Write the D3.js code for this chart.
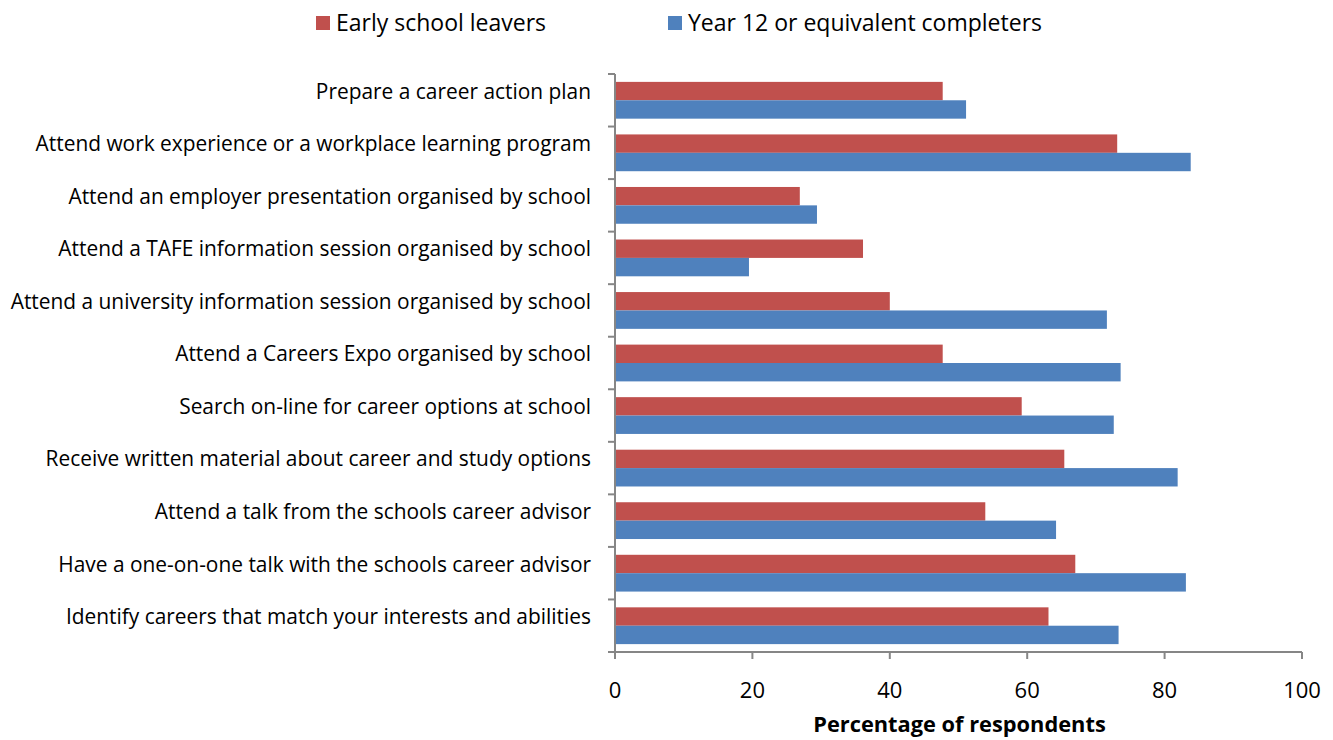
<!DOCTYPE html>
<html>
<head>
<meta charset="utf-8">
<script src="https://cdn.jsdelivr.net/npm/d3@7"></script>
<style>
  body { margin: 0; background: #fff; }
  svg { font-family: "Open Sans", sans-serif; }
</style>
</head>
<body>
<div id="chart"></div>
<script>
// categories, top to bottom
const categories = [
  "Prepare a career action plan",
  "Attend work experience or a workplace learning program",
  "Attend an employer presentation organised by school",
  "Attend a TAFE information session organised by school",
  "Attend a university information session organised by school",
  "Attend a Careers Expo organised by school",
  "Search on-line for career options at school",
  "Receive written material about career and study options",
  "Attend a talk from the schools career advisor",
  "Have a one-on-one talk with the schools career advisor",
  "Identify careers that match your interests and abilities"
];
const seriesNames = ["Early school leavers", "Year 12 or equivalent completers"];
const earlyLeavers = [47.7, 73.1, 26.9, 36.1, 40.0, 47.7, 59.2, 65.4, 53.9, 67.0, 63.1];
const year12 = [51.1, 83.8, 29.4, 19.5, 71.6, 73.6, 72.6, 81.9, 64.2, 83.1, 73.3];
const xTicks = [0, 20, 40, 60, 80, 100];
const colors = ["#C0504D", "#4F81BD"];

const width = 1333, height = 740;
const margin = { top: 74, left: 615, right: 31, bottom: 88 };
const innerW = width - margin.left - margin.right;
const innerH = height - margin.top - margin.bottom;

const svg = d3.select("#chart").append("svg")
    .attr("width", width)
    .attr("height", height);

const g = svg.append("g")
    .attr("transform", `translate(${margin.left},${margin.top})`);

const x = d3.scaleLinear().domain([0, 100]).range([0, innerW]);
const y = d3.scaleBand().domain(categories).range([0, innerH]).paddingInner(0.3).paddingOuter(0.15);
const ySub = d3.scaleBand().domain([0, 1]).range([0, y.bandwidth()]);

const rows = categories.map((c, i) => ({ cat: c, vals: [earlyLeavers[i], year12[i]] }));

// bars
const groups = g.selectAll(".row")
    .data(rows)
    .enter()
    .append("g")
    .attr("transform", d => `translate(0,${y(d.cat)})`);

groups.selectAll("rect")
    .data(d => d.vals.map((v, k) => ({ v, k })))
    .enter()
    .append("rect")
    .attr("x", 1)
    .attr("y", d => ySub(d.k))
    .attr("width", d => x(d.v) - 1)
    .attr("height", ySub.bandwidth())
    .attr("fill", d => colors[d.k]);

// y axis line + ticks at band boundaries
const step = innerH / categories.length;
g.append("line")
    .attr("x1", 0).attr("x2", 0)
    .attr("y1", 0).attr("y2", innerH)
    .attr("stroke", "#868686").attr("stroke-width", 2);
d3.range(categories.length + 1).forEach(i => {
  g.append("line")
      .attr("x1", -7).attr("x2", 0)
      .attr("y1", i * step).attr("y2", i * step)
      .attr("stroke", "#868686").attr("stroke-width", 2);
});

// category labels
g.selectAll(".cat")
    .data(categories)
    .enter()
    .append("text")
    .attr("x", -24)
    .attr("y", d => y(d) + y.bandwidth() / 2 - step * 0.17)
    .attr("dy", "0.35em")
    .attr("text-anchor", "end")
    .style("font-size", "20.9px")
    .style("fill", "#000")
    .text(d => d);

// x axis
g.append("line")
    .attr("x1", 0).attr("x2", innerW)
    .attr("y1", innerH).attr("y2", innerH)
    .attr("stroke", "#868686").attr("stroke-width", 2);
xTicks.forEach(t => {
  g.append("line")
      .attr("x1", x(t)).attr("x2", x(t))
      .attr("y1", innerH).attr("y2", innerH + 7)
      .attr("stroke", "#868686").attr("stroke-width", 2);
  g.append("text")
      .attr("x", x(t))
      .attr("y", innerH + 46)
      .attr("text-anchor", "middle")
      .style("font-size", "22px")
      .text(t);
});

// x axis title
g.append("text")
    .attr("x", innerW / 2 + 1)
    .attr("y", innerH + 80)
    .attr("text-anchor", "middle")
    .style("font-size", "21.8px")
    .style("font-weight", "bold")
    .text("Percentage of respondents");

// legend
const legendX = [316, 668];
seriesNames.forEach((name, k) => {
  svg.append("rect")
      .attr("x", legendX[k]).attr("y", 16)
      .attr("width", 14).attr("height", 14)
      .attr("fill", colors[k]);
  svg.append("text")
      .attr("x", legendX[k] + 20)
      .attr("y", 23)
      .attr("dy", "0.35em")
      .style("font-size", "23px")
      .text(name);
});
</script>
</body>
</html>
